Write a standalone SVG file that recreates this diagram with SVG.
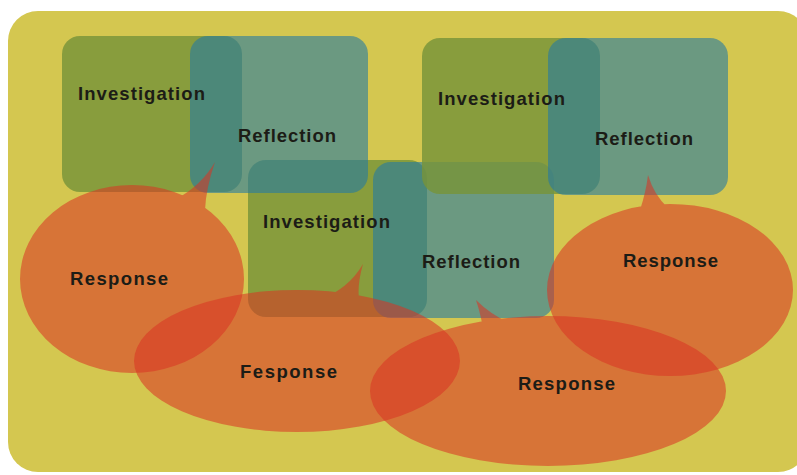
<svg xmlns="http://www.w3.org/2000/svg" width="797" height="475" viewBox="0 0 797 475">
  <style>
    .inv { fill: #789439; fill-opacity: 0.82; }
    .ref { fill: #2479a2; fill-opacity: 0.6; }
    .resp { fill: #da3324; fill-opacity: 0.56; }
    .lbl { font-family: "Liberation Sans", Arial, Helvetica, sans-serif; font-weight: bold; font-size: 18.5px; fill: #1c1c16; }
  </style>
  <rect x="0" y="0" width="797" height="475" fill="#ffffff"/>
  <rect id="background" x="8" y="11" width="800" height="461" rx="30" ry="30" fill="#d4c750"/>

  <g id="inv3"><rect class="inv" x="248" y="160" width="179" height="157" rx="18"/></g>
  <g id="ref3"><rect class="ref" x="373" y="162" width="181" height="156" rx="18"/></g>
  <g id="inv1"><rect class="inv" x="62" y="36" width="180" height="156" rx="18"/></g>
  <g id="ref1"><rect class="ref" x="190" y="36" width="178" height="157" rx="18"/></g>
  <g id="inv2"><rect class="inv" x="422" y="38" width="178" height="156" rx="18"/></g>
  <g id="ref2"><rect class="ref" x="548" y="38" width="180" height="157" rx="18"/></g>

  <g id="resp1"><path class="resp" d="M20,279 A112,94 0 1,1 244,279 A112,94 0 1,1 20,279 Z M176,199 Q201,186 215,162 Q206,188 205,210 Z"/></g>
  <g id="resp2"><path class="resp" d="M134,361 A163,71 0 1,1 460,361 A163,71 0 1,1 134,361 Z M318,300 Q348,290 363,264 Q356,288 360,306 Z"/></g>
  <g id="resp3"><path class="resp" d="M370,391 A178,75 0 1,1 726,391 A178,75 0 1,1 370,391 Z M484,336 Q482,318 476,300 Q496,320 524,328 Z"/></g>
  <g id="resp4"><path class="resp" d="M547,290 A123,86 0 1,1 793,290 A123,86 0 1,1 547,290 Z M640,210 Q646,192 648,175 Q654,195 668,208 Z"/></g>

  <g id="connectors"></g>

  <g id="labels">
    <text class="lbl" x="78" y="100" textLength="127" lengthAdjust="spacing">Investigation</text>
    <text class="lbl" x="238" y="142" textLength="98" lengthAdjust="spacing">Reflection</text>
    <text class="lbl" x="438" y="105" textLength="127" lengthAdjust="spacing">Investigation</text>
    <text class="lbl" x="595" y="145" textLength="98" lengthAdjust="spacing">Reflection</text>
    <text class="lbl" x="263" y="228" textLength="127" lengthAdjust="spacing">Investigation</text>
    <text class="lbl" x="422" y="268" textLength="98" lengthAdjust="spacing">Reflection</text>
    <text class="lbl" x="70" y="285" textLength="98" lengthAdjust="spacing">Response</text>
    <text class="lbl" x="240" y="378" textLength="97" lengthAdjust="spacing">Fesponse</text>
    <text class="lbl" x="518" y="390" textLength="97" lengthAdjust="spacing">Response</text>
    <text class="lbl" x="623" y="267" textLength="95" lengthAdjust="spacing">Response</text>
  </g>
</svg>
